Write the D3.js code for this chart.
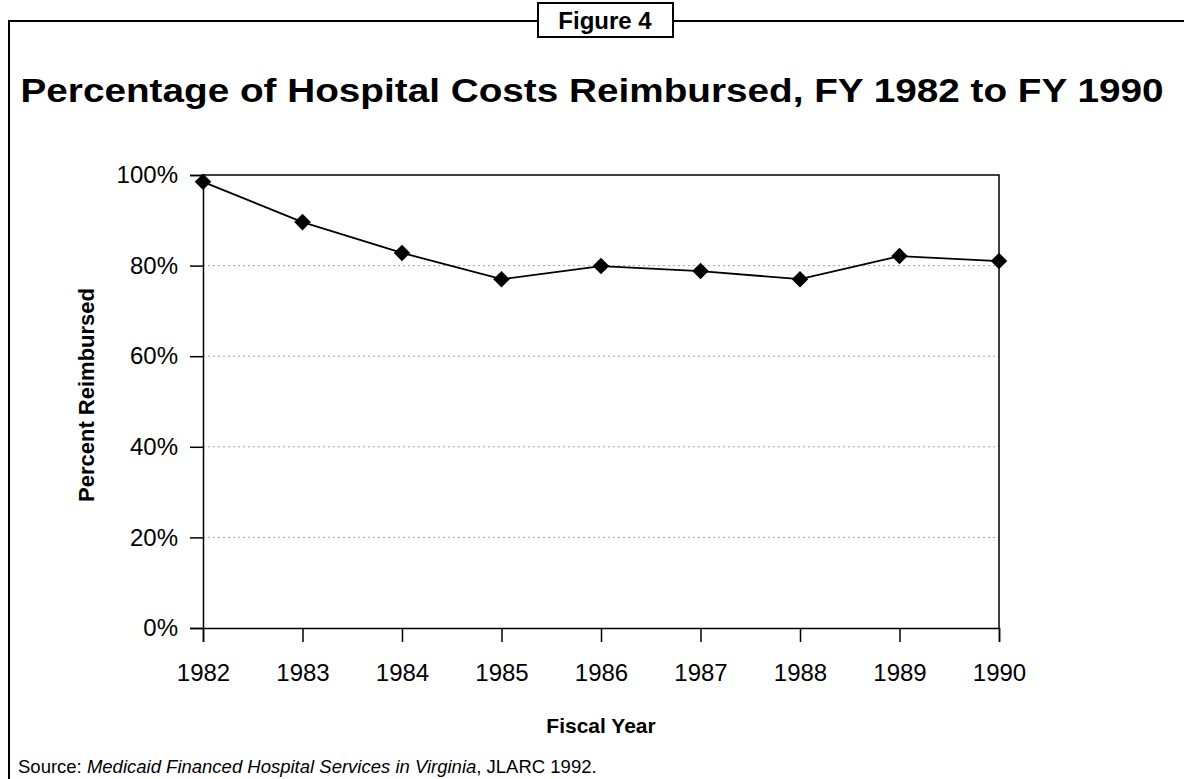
<!DOCTYPE html>
<html>
<head>
<meta charset="utf-8">
<script src="https://cdn.jsdelivr.net/npm/d3@7"></script>
<style>
  body { margin: 0; background: #fff; }
  svg { display: block; font-family: "Liberation Sans", Arial, sans-serif; }
  .grid line { stroke: #a0a0a0; stroke-dasharray: 2,3; stroke-width: 1; }
</style>
</head>
<body>
<script>
// chart data
const years = [1982, 1983, 1984, 1985, 1986, 1987, 1988, 1989, 1990];
const pctReimbursed = [98.5, 89.6, 82.8, 77.0, 79.9, 78.8, 77.0, 82.1, 81.0];
const yTicks = [0, 20, 40, 60, 80, 100];

const width = 1184, height = 779;
const plot = { left: 203, right: 999, top: 175, bottom: 628 };

const svg = d3.select('body').append('svg')
    .attr('width', width).attr('height', height);

// outer frame with the "Figure 4" tab
svg.append('path')
    .attr('d', `M9,${height} V21 H1184`)
    .attr('fill', 'none').attr('stroke', '#000').attr('stroke-width', 2);
svg.append('rect')
    .attr('x', 538).attr('y', 3).attr('width', 135).attr('height', 34)
    .attr('fill', '#fff').attr('stroke', '#000').attr('stroke-width', 2);
svg.append('text')
    .attr('x', 605).attr('y', 29).attr('text-anchor', 'middle')
    .attr('font-size', 24).attr('font-weight', 'bold')
    .text('Figure 4');

svg.append('text')
    .attr('x', 592).attr('y', 102).attr('text-anchor', 'middle')
    .attr('font-size', 33).attr('font-weight', 'bold')
    .attr('textLength', 1143).attr('lengthAdjust', 'spacingAndGlyphs')
    .text('Percentage of Hospital Costs Reimbursed, FY 1982 to FY 1990');

const x = d3.scaleLinear().domain([1982, 1990]).range([plot.left, plot.right]);
const y = d3.scaleLinear().domain([0, 100]).range([plot.bottom, plot.top]);

// dotted gridlines
svg.append('g').attr('class', 'grid')
    .selectAll('line')
    .data(yTicks.filter(d => d > 0 && d < 100))
    .join('line')
    .attr('x1', plot.left).attr('x2', plot.right)
    .attr('y1', d => y(d)).attr('y2', d => y(d));

// top and right frame of the plot area
svg.append('path')
    .attr('d', `M${plot.left},${y(100)} H${plot.right} V${plot.bottom}`)
    .attr('fill', 'none').attr('stroke', '#000').attr('stroke-width', 1.5);

// y axis
const yAxis = svg.append('g')
    .attr('transform', `translate(${plot.left},0)`)
    .call(d3.axisLeft(y).tickValues(yTicks).tickSize(13).tickPadding(12)
        .tickFormat(d => d + '%'));
yAxis.selectAll('text').attr('font-size', 24).attr('fill', '#000')
    .attr('font-family', '"Liberation Sans", Arial, sans-serif');
yAxis.selectAll('line, path').attr('stroke', '#000').attr('stroke-width', 1.5);

// x axis
const xAxis = svg.append('g')
    .attr('transform', `translate(0,${plot.bottom})`)
    .call(d3.axisBottom(x).tickValues(years).tickSize(14).tickPadding(22)
        .tickFormat(d3.format('d')));
xAxis.selectAll('text').attr('font-size', 24).attr('fill', '#000')
    .attr('font-family', '"Liberation Sans", Arial, sans-serif');
xAxis.selectAll('line, path').attr('stroke', '#000').attr('stroke-width', 1.5);

// axis titles
svg.append('text')
    .attr('transform', `translate(94,395) rotate(-90)`)
    .attr('text-anchor', 'middle')
    .attr('font-size', 22).attr('font-weight', 'bold')
    .text('Percent Reimbursed');
svg.append('text')
    .attr('x', (plot.left + plot.right) / 2).attr('y', 733)
    .attr('text-anchor', 'middle')
    .attr('font-size', 21).attr('font-weight', 'bold')
    .text('Fiscal Year');

// the series
const line = d3.line().x((d, i) => x(years[i])).y(d => y(d));
svg.append('path')
    .datum(pctReimbursed)
    .attr('d', line)
    .attr('fill', 'none').attr('stroke', '#000').attr('stroke-width', 1.8);

svg.append('g')
    .selectAll('path')
    .data(pctReimbursed)
    .join('path')
    .attr('d', d3.symbol(d3.symbolDiamond2, 175))
    .attr('transform', (d, i) => `translate(${x(years[i])},${y(d)})`)
    .attr('fill', '#000');

// source note
const src = svg.append('text')
    .attr('x', 18).attr('y', 773)
    .attr('font-size', 18.5);
src.append('tspan').text('Source:  ');
src.append('tspan').attr('font-style', 'italic')
    .text('Medicaid Financed Hospital Services in Virginia');
src.append('tspan').text(', JLARC 1992.');
</script>
</body>
</html>
